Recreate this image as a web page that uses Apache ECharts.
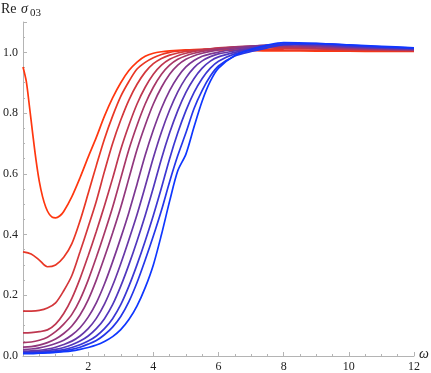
<!DOCTYPE html>
<html><head><meta charset="utf-8">
<script src="https://cdn.jsdelivr.net/npm/echarts@6/dist/echarts.min.js"></script>
<style>html,body{margin:0;padding:0;background:#fff}#c{width:431px;height:373px}</style>
</head><body><div id="c"></div>
<script>
const omega = [0,0.25,0.5,0.75,1,1.25,1.5,1.75,2,2.25,2.5,2.75,3,3.25,3.5,3.75,4,4.25,4.5,4.75,5,5.25,5.5,5.75,6,6.5,7,7.5,8,9,10,11,12];
const omegaRed = [0,0.1,0.2,0.3,0.4,0.5,0.6,0.7,0.8,0.9,1,1.125,1.25,1.5,1.75,2,2.25,2.5,2.75,3,3.25,3.5,3.75,4,4.25,4.5,4.75,5,5.5,6,6.5,7,7.5,8,9,10,11,12];
const s1  = [0.952,0.905,0.82,0.73,0.645,0.575,0.525,0.49,0.468,0.457,0.455,0.461,0.476,0.525,0.587,0.655,0.72,0.79,0.85,0.90,0.94,0.968,0.987,0.997,1.002,1.005,1.007,1.008,1.008,1.008,1.007,1.006,1.005,1.005,1.004,1.004,1.003,1.003];
const s2  = [0.343,0.336,0.316,0.294,0.30,0.325,0.37,0.445,0.535,0.627,0.715,0.79,0.855,0.904,0.945,0.967,0.982,0.993,1.0,1.004,1.007,1.009,1.010,1.011,1.011,1.011,1.010,1.009,1.008,1.007,1.006,1.005,1.004];
const s3  = [0.148,0.148,0.150,0.158,0.175,0.215,0.265,0.343,0.425,0.51,0.608,0.70,0.777,0.843,0.895,0.935,0.963,0.980,0.991,0.998,1.003,1.006,1.009,1.011,1.013,1.015,1.016,1.015,1.013,1.011,1.009,1.007,1.006];
const s4  = [0.076,0.077,0.080,0.086,0.105,0.14,0.19,0.255,0.33,0.41,0.495,0.585,0.68,0.76,0.83,0.885,0.928,0.958,0.977,0.989,0.997,1.003,1.008,1.012,1.015,1.018,1.019,1.018,1.016,1.013,1.010,1.008,1.007];
const s5  = [0.044,0.046,0.052,0.062,0.080,0.105,0.137,0.186,0.25,0.325,0.405,0.49,0.585,0.68,0.76,0.83,0.885,0.928,0.958,0.977,0.989,0.997,1.003,1.008,1.012,1.018,1.021,1.021,1.019,1.015,1.012,1.010,1.008];
const s6  = [0.029,0.031,0.036,0.044,0.056,0.074,0.099,0.135,0.185,0.25,0.325,0.405,0.49,0.585,0.68,0.76,0.83,0.885,0.928,0.958,0.977,0.989,0.997,1.003,1.008,1.016,1.021,1.023,1.022,1.018,1.014,1.011,1.009];
const s7  = [0.021,0.023,0.027,0.033,0.041,0.052,0.069,0.093,0.128,0.175,0.237,0.31,0.389,0.473,0.566,0.661,0.744,0.816,0.874,0.919,0.952,0.973,0.987,0.995,1.001,1.011,1.019,1.024,1.025,1.021,1.016,1.013,1.010];
const s8  = [0.016,0.017,0.019,0.023,0.029,0.038,0.049,0.066,0.090,0.124,0.171,0.232,0.304,0.383,0.466,0.558,0.653,0.738,0.81,0.87,0.916,0.95,0.972,0.986,0.995,1.005,1.015,1.023,1.027,1.024,1.018,1.014,1.011];
const s9  = [0.013,0.014,0.015,0.018,0.022,0.028,0.037,0.049,0.066,0.090,0.123,0.169,0.23,0.301,0.379,0.463,0.554,0.650,0.735,0.808,0.868,0.914,0.948,0.971,0.985,1.0,1.011,1.021,1.027,1.026,1.020,1.015,1.012];
const s10 = [0.011,0.011,0.012,0.014,0.017,0.021,0.028,0.037,0.049,0.066,0.090,0.123,0.169,0.23,0.301,0.379,0.463,0.554,0.650,0.735,0.808,0.868,0.914,0.948,0.971,0.995,1.007,1.018,1.027,1.028,1.022,1.017,1.013];
const s11 = [0.009,0.009,0.010,0.012,0.014,0.017,0.022,0.029,0.039,0.051,0.070,0.095,0.13,0.179,0.242,0.316,0.395,0.48,0.574,0.660,0.735,0.815,0.875,0.922,0.955,0.988,1.003,1.015,1.025,1.029,1.024,1.018,1.014];
const s12 = [0.008,0.008,0.009,0.010,0.012,0.014,0.017,0.022,0.028,0.036,0.048,0.064,0.087,0.12,0.165,0.225,0.30,0.40,0.51,0.61,0.665,0.755,0.84,0.905,0.948,0.99,1.010,1.024,1.032,1.030,1.025,1.020,1.015];
const curves = [s1,s2,s3,s4,s5,s6,s7,s8,s9,s10,s11,s12];
const colors = ['#ff370f','#e93725','#d3373b','#be3750','#a83766','#92377c','#7c3792','#6637a8','#5037be','#3b37d3','#2537e9','#0f37ff'];
const xTicks = [0,2,4,6,8,10,12];
const yTicks = [0,0.2,0.4,0.6,0.8,1.0];

const serif = "Liberation Serif";
const axisGray = '#b4b4b4';
const chart = echarts.init(document.getElementById('c'), null, {renderer:'canvas'});
chart.setOption({
  animation:false,
  backgroundColor:'#fff',
  textStyle:{fontFamily:serif},
  grid:{left:22,right:17,top:22,bottom:16.5,containLabel:false},
  xAxis:{type:'value',min:xTicks[0],max:xTicks[xTicks.length-1],interval:2,
    axisLine:{lineStyle:{color:axisGray,width:1}},
    axisTick:{inside:true,length:4,lineStyle:{color:axisGray}},
    minorTick:{show:true,splitNumber:4,length:2,lineStyle:{color:axisGray}},
    splitLine:{show:false},
    axisLabel:{margin:5,color:'#222',fontFamily:serif,fontSize:12,formatter:v=>v===0?'':String(v)}},
  yAxis:{type:'value',min:0,max:1.1,interval:0.2,
    axisLine:{show:true,lineStyle:{color:axisGray,width:1}},
    axisTick:{show:true,inside:true,length:4,lineStyle:{color:axisGray}},
    minorTick:{show:true,splitNumber:4,length:2,lineStyle:{color:axisGray}},
    splitLine:{show:false},
    axisLabel:{margin:5,color:'#222',fontFamily:serif,fontSize:12,showMaxLabel:false,
      formatter:v=>yTicks.some(t=>Math.abs(t-v)<1e-9)?v.toFixed(1):''}},
  graphic:[
    {type:'text',left:1,top:2,style:{text:'Re',fontFamily:serif,fontSize:14,fill:'#222'}},
    {type:'text',left:21,top:2,style:{text:'σ',fontFamily:serif,fontStyle:'italic',fontSize:14,fill:'#222'}},
    {type:'text',left:30,top:8,style:{text:'03',fontFamily:serif,fontSize:11,fill:'#222'}},
    {type:'text',left:419,top:347,style:{text:'ω',fontFamily:serif,fontStyle:'italic',fontSize:14,fill:'#222'}}
  ],
  series:curves.map((c,i)=>({type:'line',data:(i===0?omegaRed:omega).map((x,j)=>[x,c[j]]),showSymbol:false,smooth:0.3,
    lineStyle:{color:colors[i],width:1.7},itemStyle:{color:colors[i]},z:2+i}))
});
</script></body></html>
